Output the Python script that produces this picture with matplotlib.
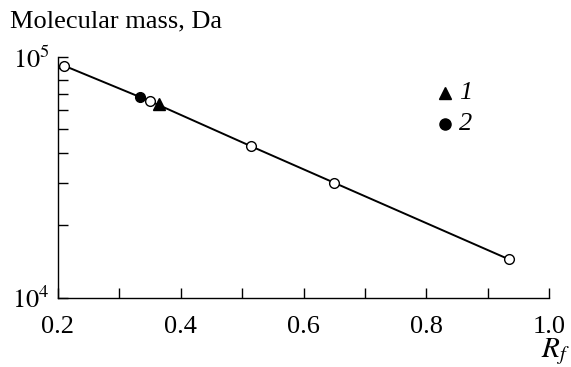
import matplotlib
matplotlib.use("Agg")
import matplotlib.pyplot as plt
from matplotlib.ticker import FixedLocator, NullFormatter, FixedFormatter

plt.rcParams['font.family'] = ['Liberation Serif', 'DejaVu Serif']
plt.rcParams['mathtext.fontset'] = 'stix'

# calibration standards (open circles)
rf_std = [0.21, 0.35, 0.515, 0.65, 0.935]
mass_std = [92000, 65500, 42500, 30000, 14400]
# samples
rf_1 = [0.365]
mass_1 = [63500]
rf_2 = [0.333]
mass_2 = [68500]

W, H = 571, 367
fig = plt.figure(figsize=(W / 100, H / 100), dpi=100)
ax = fig.add_axes([58 / W, 1 - 297.5 / H, (549 - 58) / W, (297.5 - 57) / H])

ax.plot(rf_std, mass_std, color='black', lw=1.4, zorder=2)
ax.plot(rf_std, mass_std, 'o', ms=7, mfc='white', mec='black', mew=1.0, zorder=3)
ax.plot(rf_1, mass_1, '^', ms=8, color='black', zorder=4)
ax.plot(rf_2, mass_2, 'o', ms=7, color='black', zorder=4)

ax.set_yscale('log')
ax.set_xlim(0.2, 1.0)
ax.set_ylim(1e4, 1e5)

ax.xaxis.set_major_locator(FixedLocator([0.2, 0.3, 0.4, 0.5, 0.6, 0.7, 0.8, 0.9, 1.0]))
ax.xaxis.set_major_formatter(FixedFormatter(['0.2', '', '0.4', '', '0.6', '', '0.8', '', '1.0']))
ax.yaxis.set_major_locator(FixedLocator([1e4, 1e5]))
ax.yaxis.set_major_formatter(FixedFormatter(['$10^4$', '$10^5$']))
ax.yaxis.set_minor_locator(FixedLocator([k * 1e4 for k in range(2, 10)]))
ax.yaxis.set_minor_formatter(NullFormatter())

ax.tick_params(axis='both', which='both', direction='in', width=1.0, colors='black',
               labelsize=19)
ax.tick_params(axis='both', which='major', length=7)
ax.tick_params(axis='y', which='minor', length=7)
ax.tick_params(axis='x', which='major', pad=13)
ax.tick_params(axis='y', which='major', pad=6)

for s in ['top', 'right']:
    ax.spines[s].set_visible(False)
for s in ['left', 'bottom']:
    ax.spines[s].set_linewidth(1.0)

# legend markers
ax.plot([445 / W], [1 - 93 / H], '^', ms=9, color='black',
        transform=fig.transFigure, clip_on=False)
ax.plot([445 / W], [1 - 124 / H], 'o', ms=8, color='black',
        transform=fig.transFigure, clip_on=False)
fig.text(459 / W, 1 - 93 / H, '1', fontsize=19, style='italic', va='center')
fig.text(459 / W, 1 - 124 / H, '2', fontsize=19, style='italic', va='center')

fig.text(10 / W, 1 - 21 / H, 'Molecular mass, Da', fontsize=19, va='center')
fig.text(570 / W, 1 - 352 / H, '$R_f$', fontsize=21, ha='right', va='center')

fig.savefig('out.png', dpi=100)
